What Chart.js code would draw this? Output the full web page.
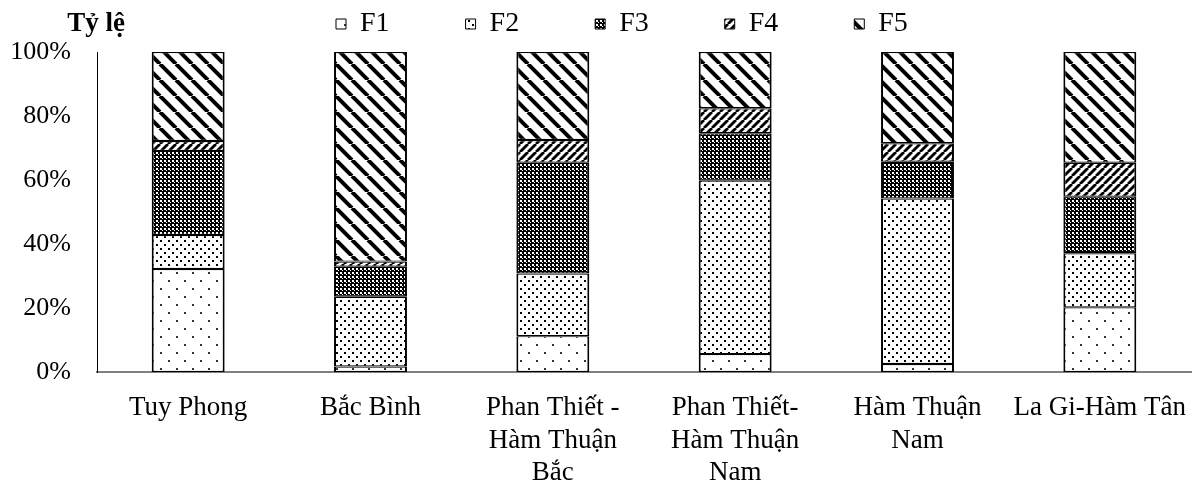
<!DOCTYPE html>
<html>
<head>
<meta charset="utf-8">
<script src="https://cdn.jsdelivr.net/npm/chart.js"></script>
<style>
  html, body { margin: 0; padding: 0; background: #fff; }
  #wrap { width: 1200px; height: 485px; }
</style>
</head>
<body>
<div id="wrap"><canvas id="shareChart"></canvas></div>
<script>
// Regions on the x axis (multi-line labels as arrays)
const regions = ['Tuy Phong', 'Bắc Bình', ['Phan Thiết -', 'Hàm Thuận', 'Bắc'], ['Phan Thiết-', 'Hàm Thuận', 'Nam'], ['Hàm Thuận', 'Nam'], 'La Gi-Hàm Tân'];
const groupNames = ['F1', 'F2', 'F3', 'F4', 'F5'];

// Share of each group per region (%)
const f1 = [32.2, 1.7, 11.2, 5.6, 2.5, 20.2];
const f2 = [10.6, 21.8, 19.6, 54.2, 51.7, 16.9];
const f3 = [26.3, 9.4, 34.6, 14.8, 11.5, 17.7];
const f4 = [3.1, 1.6, 7.1, 7.8, 5.8, 10.6];
const f5 = [27.8, 65.5, 27.5, 17.6, 28.5, 34.6];

// y axis ticks (%)
const yTicks = [0, 20, 40, 60, 80, 100];

const legendPad = 76;

// small black & white fill patterns, like the Excel ones
function makePattern(size, paint) {
    const c = document.createElement('canvas');
    c.width = size;
    c.height = size;
    const g = c.getContext('2d');
    g.fillStyle = '#fff';
    g.fillRect(0, 0, size, size);
    paint(g, size);
    return g.createPattern(c, 'repeat');
}

function diagonal(g, s, width, down) {
    g.strokeStyle = '#000';
    g.lineWidth = width;
    for (let k = -1; k <= 1; k++) {
        g.beginPath();
        if (down) {
            g.moveTo(k * s, 0);
            g.lineTo(k * s + s, s);
        } else {
            g.moveTo(k * s, s);
            g.lineTo(k * s + s, 0);
        }
        g.stroke();
    }
}

const patterns = [
    // F1: sparse dots
    makePattern(16, (g) => {
        g.fillStyle = '#333';
        g.fillRect(0, 0, 2, 2);
        g.fillRect(8, 8, 2, 2);
    }),
    // F2: dense dots
    makePattern(8, (g) => {
        g.fillStyle = '#000';
        g.fillRect(0, 0, 2, 2);
        g.fillRect(4, 4, 2, 2);
    }),
    // F3: dark checker
    makePattern(4, (g) => {
        g.fillStyle = '#000';
        g.fillRect(0, 0, 4, 4);
        g.fillStyle = '#fff';
        g.fillRect(0, 0, 2, 2);
        g.fillRect(2, 2, 1, 1);
    }),
    // F4: narrow upward diagonal
    makePattern(8, (g, s) => diagonal(g, s, 2.8, false)),
    // F5: wide downward diagonal
    makePattern(16, (g, s) => diagonal(g, s, 4, true))
];

const seriesData = [f1, f2, f3, f4, f5];

Chart.defaults.font.family = '"Liberation Serif", "Times New Roman", serif';
Chart.defaults.color = '#000';

// "Tỷ lệ" label at the top left, and legend placement
const axisLabelPlugin = {
    id: 'axisLabel',
    afterLayout(chart) {
        const lg = chart.legend;
        const dx = chart.chartArea.left + 239 - legendPad - lg.left;
        const dy = -4;
        lg.left += dx;
        lg.right += dx;
        lg.top += dy;
        lg.bottom += dy;
    },
    afterDraw(chart) {
        const ctx = chart.ctx;
        ctx.save();
        ctx.font = 'bold 27px "Liberation Serif"';
        ctx.fillStyle = '#000';
        ctx.textAlign = 'right';
        ctx.textBaseline = 'middle';
        ctx.fillText('Tỷ lệ', chart.chartArea.left + 28, chart.legend.top + legendPad + 14);
        ctx.restore();
    }
};

const ctx = document.getElementById('shareChart').getContext('2d');
const shareChart = new Chart(ctx, {
    type: 'bar',
    data: {
        labels: regions,
        datasets: groupNames.map((name, i) => ({
            label: name,
            data: seriesData[i],
            backgroundColor: patterns[i],
            borderColor: '#000',
            borderWidth: { top: 1.2, bottom: 1.2, left: 2, right: 2 },
            borderSkipped: false,
            barPercentage: 0.4,
            categoryPercentage: 1
        }))
    },
    options: {
        responsive: true,
        maintainAspectRatio: false,
        animation: false,
        layout: {
            padding: { top: 0 - legendPad, left: 0, right: 9, bottom: 0 }
        },
        plugins: {
            legend: {
                position: 'top',
                align: 'start',
                labels: {
                    boxWidth: 10,
                    boxHeight: 10,
                    padding: legendPad,
                    font: { size: 28 },
                    generateLabels(chart) {
                        return Chart.defaults.plugins.legend.labels.generateLabels(chart).map(item => {
                            item.lineWidth = 1;
                            return item;
                        });
                    }
                }
            },
            tooltip: { enabled: false }
        },
        scales: {
            x: {
                stacked: true,
                grid: { display: false, drawTicks: false },
                border: { display: true, color: '#808080', width: 2 },
                afterFit(scale) {
                    scale.height = 113;
                    scale.paddingLeft = 0;
                    scale.paddingRight = 0;
                },
                ticks: {
                    autoSkip: false,
                    maxRotation: 0,
                    padding: 20,
                    font: { size: 27 }
                }
            },
            y: {
                stacked: true,
                min: 0,
                max: 100,
                grid: { display: false, drawTicks: false },
                border: { display: true, color: '#000', width: 1 },
                afterBuildTicks(scale) {
                    scale.ticks = yTicks.map(v => ({ value: v }));
                },
                afterFit(scale) {
                    scale.width = 97;
                    scale.paddingTop = Math.max(scale.paddingTop, 52);
                },
                ticks: {
                    padding: 26,
                    font: { size: 26 },
                    callback: (v) => v + '%'
                }
            }
        }
    },
    plugins: [axisLabelPlugin]
});
</script>
</body>
</html>
